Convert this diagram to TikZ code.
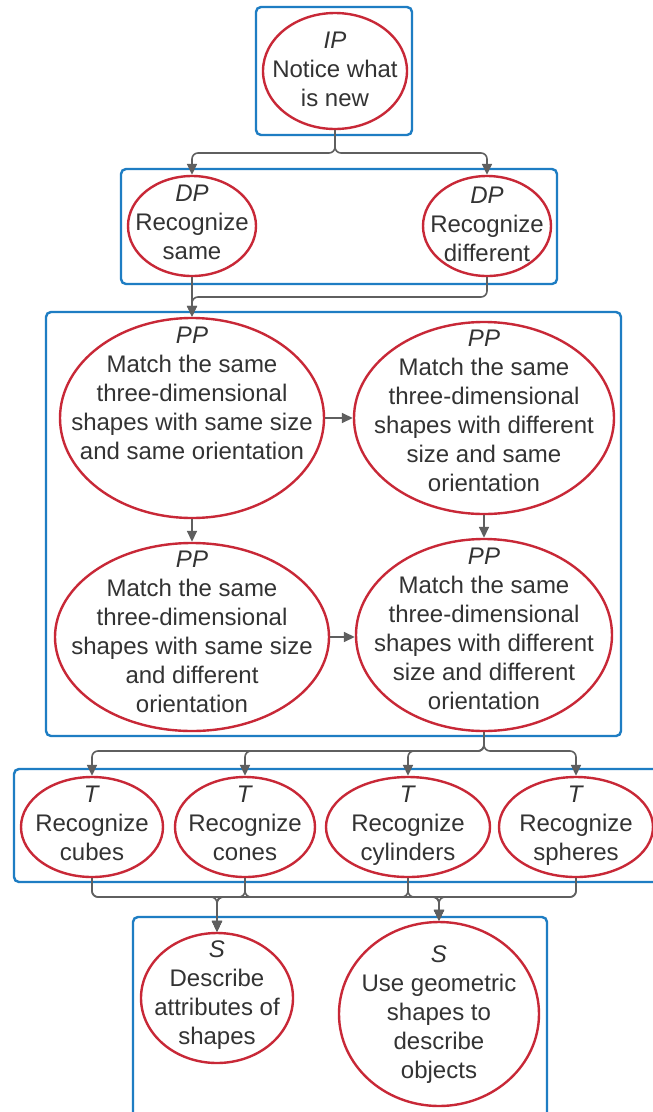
\documentclass[tikz,border=0pt]{standalone}
\usepackage{fontspec}
\setmainfont{Liberation Sans}
\usetikzlibrary{arrows.meta,shapes.geometric}
\definecolor{boxblue}{RGB}{30,125,195}
\definecolor{ellred}{RGB}{200,40,55}
\definecolor{linegray}{RGB}{95,95,95}
\definecolor{txtgray}{RGB}{51,51,51}
\begin{document}
\begin{tikzpicture}[x=1pt,y=-1pt,
  grp/.style={draw=boxblue,line width=2.4pt,rounded corners=5pt,inner sep=0pt},
  ell/.style={ellipse,draw=ellred,line width=2.4pt,fill=white,inner sep=0pt},
  lbl/.style={text=txtgray,align=center,font=\fontsize{24}{29}\selectfont,inner sep=0pt,text depth=0pt},
  conn/.style={draw=linegray,line width=1.6pt,rounded corners=6pt,-{Triangle[length=11pt,width=10pt]}}
]
\useasboundingbox (0,0) rectangle (653,1112);
\clip (0,0) rectangle (653,1112);
\fill[white] (0,0) rectangle (653,1112);

% group boxes
\node[grp,minimum width=156pt,minimum height=128pt] (g1) at (334,71) {};
\node[grp,minimum width=436pt,minimum height=115pt] (g2) at (339,226.5) {};
\node[grp,minimum width=575pt,minimum height=424pt] (g3) at (333.5,524) {};
\node[grp,minimum width=656pt,minimum height=113pt] (g4) at (342,825.5) {};
\node[grp,minimum width=414pt,minimum height=213pt] (g5) at (340,1023.5) {};

% ellipses
\node[ell,minimum width=144pt,minimum height=116pt] (ip) at (335,71) {};
\node[ell,minimum width=128pt,minimum height=100pt] (dps) at (192,226) {};
\node[ell,minimum width=128pt,minimum height=100pt] (dpd) at (487,226) {};
\node[ell,minimum width=264pt,minimum height=200pt] (pp1) at (192,418) {};
\node[ell,minimum width=260pt,minimum height=192pt] (pp2) at (484,418) {};
\node[ell,minimum width=274pt,minimum height=188pt] (pp3) at (192,637) {};
\node[ell,minimum width=256pt,minimum height=192pt] (pp4) at (484,635) {};
\node[ell,minimum width=142pt,minimum height=100pt] (t1) at (92,827) {};
\node[ell,minimum width=140pt,minimum height=100pt] (t2) at (245,827) {};
\node[ell,minimum width=164pt,minimum height=100pt] (t3) at (408,827) {};
\node[ell,minimum width=154pt,minimum height=100pt] (t4) at (576,827) {};
\node[ell,minimum width=152pt,minimum height=130pt] (s1) at (217,998) {};
\node[ell,minimum width=200pt,minimum height=184pt] (s2) at (439,1014) {};

% junction coordinates
\coordinate (j1) at (335,153);
\coordinate (j2) at (192,297);
\coordinate (j3) at (484,751);
\coordinate (b1) at (217,897);
\coordinate (b2) at (439,897);

% connectors
\draw[conn] (ip.south) -- (j1) -| (dps.north);
\draw[conn] (ip.south) -- (j1) -| (dpd.north);
\draw[conn] (dps.south) -- (pp1.north);
\draw[conn] (dpd.south) |- (j2) -- (pp1.north);
\draw[conn] (pp1.east) -- (pp1.east -| pp2.west);
\draw[conn] (pp1.south) -- (pp3.north);
\draw[conn] (pp2.south) -- (pp4.north);
\draw[conn] (pp3.east) -- (pp3.east -| pp4.west);
\foreach \t in {t1,t2,t3,t4}{
  \draw[conn] (pp4.south) -- (j3) -| (\t.north);
  \draw[conn] (\t.south) |- (b1) -- (s1.north);
  \draw[conn] (\t.south) |- (b2) -- (s2.north);
}

% texts
\node[lbl] (ipt) at (335,69) {\textit{IP}\\Notice what\\is new};
\node[lbl] (dpst) at (192,222) {\textit{DP}\\Recognize\\same};
\node[lbl] (dpdt) at (487,224) {\textit{DP}\\Recognize\\different};
\node[lbl] (pp1t) at (192,393) {\textit{PP}\\Match the same\\three-dimensional\\shapes with same size\\and same orientation};
\node[lbl] (pp2t) at (484,411) {\textit{PP}\\Match the same\\three-dimensional\\shapes with different\\size and same\\orientation};
\node[lbl] (pp3t) at (192,632) {\textit{PP}\\Match the same\\three-dimensional\\shapes with same size\\and different\\orientation};
\node[lbl] (pp4t) at (484,629) {\textit{PP}\\Match the same\\three-dimensional\\shapes with different\\size and different\\orientation};
\node[lbl] (t1t) at (92,823) {\textit{T}\\Recognize\\cubes};
\node[lbl] (t2t) at (245,823) {\textit{T}\\Recognize\\cones};
\node[lbl] (t3t) at (408,823) {\textit{T}\\Recognize\\cylinders};
\node[lbl] (t4t) at (576,823) {\textit{T}\\Recognize\\spheres};
\node[lbl] (s1t) at (217,993) {\textit{S}\\Describe\\attributes of\\shapes};
\node[lbl] (s2t) at (439,1012) {\textit{S}\\Use geometric\\shapes to\\describe\\objects};
\end{tikzpicture}
\end{document}
